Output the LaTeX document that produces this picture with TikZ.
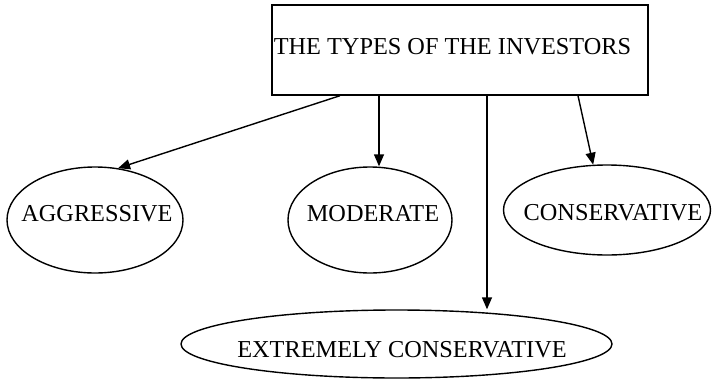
\documentclass[tikz,border=0pt]{standalone}
\usepackage{fontspec}
\setmainfont{Liberation Serif}
\usetikzlibrary{shapes.geometric,arrows.meta}
\newcommand\etxt[3]{\makebox[0pt]{\hspace*{#1}\raisebox{#2}[0pt][0pt]{\raisebox{-.5\height}{#3}}}}
\tikzset{
  lbl/.style={inner sep=0pt,font=\fontsize{24.3}{29}\selectfont},
  topbox/.style={lbl,draw,line width=1.4pt,rectangle,minimum width=376pt,minimum height=90pt},
  oval/.style={lbl,draw,line width=1.4pt,ellipse},
  arr/.style={line width=1.4pt,-{Triangle[length=12pt,width=10pt]}}
}
\begin{document}
\begin{tikzpicture}[x=1pt,y=-1pt]
\useasboundingbox (0,0) rectangle (712,383);
\node[topbox] (box) at (460,50) {\etxt{-15pt}{4pt}{THE TYPES OF THE INVESTORS}};
\node[oval,minimum width=176pt,minimum height=106pt] (agg) at (95,220) {\etxt{4pt}{7pt}{AGGRESSIVE}};
\node[oval,minimum width=164pt,minimum height=106pt] (mod) at (370,220) {\etxt{6pt}{7pt}{MODERATE}};
\node[oval,minimum width=207pt,minimum height=90pt] (con) at (607,210) {\etxt{12pt}{-2pt}{CONSERVATIVE}};
\node[oval,minimum width=431pt,minimum height=68pt] (ext) at (396.5,344) {\etxt{11pt}{-5pt}{EXTREMELY CONSERVATIVE}};
\draw[arr] ([xshift=-120pt]box.south) -- (agg.66);
\draw[arr] ([xshift=-81pt]box.south) -- ([xshift=-81pt]box.south |- mod.north);
\draw[arr] ([xshift=27pt]box.south) -- ([xshift=27pt]box.south |- ext.north);
\draw[arr] ([xshift=118pt]box.south) -- (con.107);
\end{tikzpicture}
\end{document}
